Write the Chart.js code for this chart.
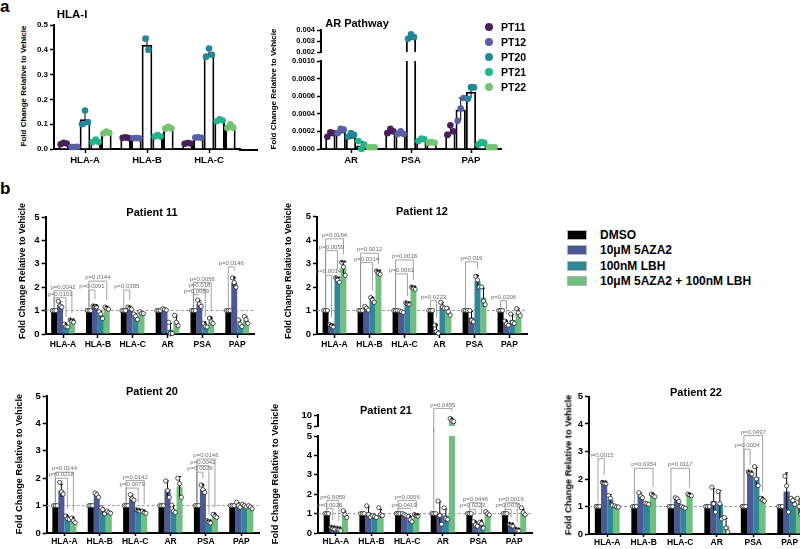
<!DOCTYPE html>
<html>
<head>
<meta charset="utf-8">
<title>Fold change relative to vehicle</title>
<script src="https://cdn.jsdelivr.net/npm/chart.js@4.4.1/dist/chart.umd.min.js"></script>
<style>
html, body { margin:0; padding:0; background:#fff; overflow:hidden; }
#fig { position:relative; width:800px; height:549px; overflow:hidden; font-family:"Liberation Sans", Arial, sans-serif; color:#000; }
#fig canvas { position:absolute; }
.txt { position:absolute; font-weight:bold; white-space:nowrap; line-height:1; z-index:2; }
.ctr { transform:translate(-50%, -50%); }
.lft { transform:translate(0, -50%); }
.ytl { transform:translate(-50%, -50%) rotate(-90deg); }
.swatch { position:absolute; width:20px; height:10px; box-sizing:border-box; border:1px solid #b5b5b5; transform:translate(0, -50%); }
.dot { position:absolute; width:8px; height:8px; border-radius:50%; transform:translate(-50%, -50%); }
</style>
</head>
<body>
<div id="fig"></div>
<script>

// =========================
// PANEL A DATA
// =========================

const patients = ['PT11', 'PT12', 'PT20', 'PT21', 'PT22'];
const hlaGenes = ['HLA-A', 'HLA-B', 'HLA-C'];
const arGenes = ['AR', 'PSA', 'PAP'];

const hlaTicks = [0, 0.1, 0.2, 0.3, 0.4, 0.5];
const arTicksLow = [0, 0.0002, 0.0004, 0.0006, 0.0008, 0.0010];
const arTicksHigh = [0.002, 0.003, 0.004];

// rows = patients, columns = genes
const hlaMeans = [
  [0.022, 0.045, 0.022],
  [0.008, 0.043, 0.046],
  [0.120, 0.420, 0.385],
  [0.030, 0.050, 0.115],
  [0.065, 0.085, 0.090]
];
const hlaReps = [
  [[0.019, 0.025, 0.022], [0.045, 0.047, 0.044], [0.021, 0.024, 0.022]],
  [[0.008, 0.008, 0.009], [0.043, 0.044, 0.043], [0.046, 0.047, 0.045]],
  [[0.100, 0.155, 0.108], [0.445, 0.400], [0.372, 0.405, 0.380]],
  [[0.028, 0.038, 0.028], [0.050, 0.056, 0.050], [0.112, 0.120, 0.115]],
  [[0.062, 0.070, 0.065], [0.082, 0.090, 0.083], [0.085, 0.100, 0.086]]
];

const arMeans = [
  [0.00017, 0.00019, 0.00020],
  [0.00020, 0.00017, 0.00045],
  [0.00014, 0.00330, 0.00065],
  [0.00004, 0.00010, 0.00006],
  [0.00002, 0.00007, 0.00002]
];
const arReps = [
  [[0.00014, 0.00019, 0.00018], [0.00018, 0.00023, 0.00020], [0.00016, 0.00027, 0.00020]],
  [[0.00018, 0.00023, 0.00022], [0.00017, 0.00020, 0.00017], [0.00032, 0.00046, 0.00058]],
  [[0.00014, 0.00018, 0.00016], [0.00320, 0.00360, 0.00335], [0.00057, 0.00070, 0.00070]],
  [[0.00009, 0.00000, 0.00005], [0.00009, 0.00012, 0.00011], [0.00005, 0.00008, 0.00007]],
  [[0.00002, 0.00002, 0.00002], [0.00007, 0.00008, 0.00007], [0.00002, 0.00002, 0.00002]]
];


// =========================
// PANEL B DATA
// =========================

const genes = ['HLA-A', 'HLA-B', 'HLA-C', 'AR', 'PSA', 'PAP'];
const treatments = ['DMSO', '10μM 5AZA2', '100nM LBH', '10μM 5AZA2 + 100nM LBH'];
const foldTicks = [0, 1, 2, 3, 4, 5];
const foldTicksHigh = [5, 10];

const dmsoMeans = [1, 1, 1, 1, 1, 1];
const dmsoReps = [[1, 1, 1], [1, 1, 1], [1, 1, 1], [1, 1, 1], [1, 1, 1], [1, 1, 1]];

// rows = DMSO, 5AZA2, LBH, combination
const p11Means = [
  dmsoMeans,
  [1.25, 1.18, 1.10, 1.05, 1.30, 2.20],
  [0.35, 0.82, 0.75, 0.18, 0.35, 0.45],
  [0.55, 1.10, 0.90, 0.55, 0.55, 0.60]
];
const p11Reps = [
  dmsoReps,
  [[1.40, 1.20, 1.15], [1.20, 1.18, 1.16], [1.15, 1.10, 1.06], [1.08, 1.05, 1.02], [1.45, 1.28, 1.18], [2.40, 2.20, 2.00]],
  [[0.42, 0.32, 0.30], [0.95, 0.85, 0.66], [0.85, 0.76, 0.62], [0.50, 0.02, 0.02], [0.45, 0.32, 0.30], [0.60, 0.42, 0.32]],
  [[0.60, 0.55, 0.50], [1.15, 1.10, 1.06], [0.95, 0.88, 0.87], [0.80, 0.50, 0.35], [0.68, 0.52, 0.45], [0.75, 0.62, 0.45]]
];
// [gene, treatment, bracket level, text]
const p11Brackets = [
  [0, 3, 1.85, 'p=0.0042'], [0, 2, 1.55, 'p=0.0101'],
  [1, 3, 2.26, 'p=0.0144'], [1, 1, 1.88, 'p=0.0091'],
  [2, 1, 1.88, 'p=0.0385'],
  [4, 3, 2.2, 'p=0.0056'], [4, 2, 1.92, 'p=0.018'], [4, 1, 1.68, 'p=0.0089'],
  [5, 1, 2.87, 'p=0.0146']
];
const p11Stars = [[0, 2, '*'], [0, 3, '**'], [1, 1, '**'], [1, 3, '*'], [2, 1, '*'], [4, 2, '*'], [4, 3, '*'], [5, 1, '*']];

const p12Means = [
  dmsoMeans,
  [0.35, 1.10, 0.95, 0.17, 0.70, 0.45],
  [2.30, 1.45, 1.30, 1.20, 2.25, 0.60],
  [2.80, 2.60, 1.95, 0.95, 1.55, 0.92]
];
const p12Reps = [
  dmsoReps,
  [[0.40, 0.35, 0.30], [1.18, 1.10, 1.02], [0.98, 0.95, 0.92], [0.38, 0.10, 0.03], [1.00, 0.58, 0.52], [0.55, 0.43, 0.37]],
  [[2.40, 2.30, 2.20], [1.55, 1.45, 1.35], [1.33, 1.30, 1.27], [1.35, 1.15, 1.10], [2.45, 2.30, 2.00], [0.85, 0.50, 0.45]],
  [[3.05, 2.85, 2.50], [2.68, 2.58, 2.54], [2.00, 1.95, 1.90], [1.10, 0.95, 0.80], [2.00, 1.40, 1.25], [1.08, 0.90, 0.78]]
];
const p12Brackets = [
  [0, 3, 4.05, 'p=0.0184'], [0, 2, 3.55, 'p=0.0059'], [0, 1, 2.5, 'p=0.0014'],
  [1, 3, 3.44, 'p=0.0012'], [1, 2, 3.04, 'p=0.0314'],
  [2, 3, 3.15, 'p=0.0018'], [2, 2, 2.56, 'p=0.0061'],
  [3, 1, 1.42, 'p=0.0223'],
  [4, 2, 3.07, 'p=0.019'],
  [5, 1, 1.42, 'p=0.0206']
];
const p12Stars = [[0, 1, '**'], [0, 2, '**'], [0, 3, '**'], [1, 2, '*'], [1, 3, '**'], [2, 2, '**'], [2, 3, '**'], [3, 1, '*'], [4, 2, '*'], [5, 1, '*']];

const p20Means = [
  dmsoMeans,
  [1.55, 1.38, 1.28, 1.60, 1.60, 1.02],
  [0.55, 0.82, 0.82, 0.85, 0.40, 1.00],
  [0.45, 0.75, 0.75, 1.70, 0.62, 0.95]
];
const p20Reps = [
  dmsoReps,
  [[1.85, 1.50, 1.42], [1.46, 1.40, 1.30], [1.40, 1.25, 1.20], [1.90, 1.55, 1.30], [1.75, 1.58, 1.48], [1.12, 1.00, 0.94]],
  [[0.62, 0.52, 0.50], [0.92, 0.85, 0.70], [0.85, 0.82, 0.80], [1.02, 0.80, 0.75], [0.45, 0.40, 0.36], [1.05, 1.00, 0.95]],
  [[0.55, 0.45, 0.38], [0.80, 0.75, 0.72], [0.80, 0.75, 0.72], [2.00, 1.80, 1.30], [0.68, 0.62, 0.57], [1.00, 0.95, 0.88]]
];
const p20Brackets = [
  [0, 3, 2.22, 'p=0.0144'], [0, 2, 2.0, 'p=0.0218'],
  [2, 3, 1.92, 'p=0.0142'], [2, 2, 1.64, 'p=0.0079'],
  [4, 3, 2.7, 'p=0.0146'], [4, 2, 2.46, 'p=0.0042'], [4, 1, 2.22, 'p=0.0029']
];
const p20Stars = [[0, 2, '*'], [0, 3, '*'], [2, 2, '**'], [2, 3, '*'], [4, 1, '*'], [4, 2, '**'], [4, 3, '*']];

const p21Means = [
  dmsoMeans,
  [0.25, 1.05, 0.95, 1.00, 0.45, 0.40],
  [0.18, 0.85, 0.70, 0.90, 0.45, 0.15],
  [0.95, 1.00, 0.90, 7.50, 0.95, 1.05]
];
const p21Reps = [
  dmsoReps,
  [[0.30, 0.24, 0.20], [1.40, 0.95, 0.82], [1.00, 0.95, 0.90], [1.65, 0.90, 0.45], [0.58, 0.42, 0.35], [0.45, 0.40, 0.35]],
  [[0.25, 0.16, 0.12], [0.90, 0.85, 0.80], [0.85, 0.68, 0.58], [1.30, 0.75, 0.70], [0.55, 0.48, 0.25], [0.20, 0.14, 0.12]],
  [[1.15, 0.95, 0.80], [1.30, 0.95, 0.90], [0.95, 0.90, 0.87], [8.40, 7.60, 7.00], [1.10, 1.00, 0.93], [1.30, 1.05, 0.95]]
];
const p21Brackets = [
  [0, 2, 1.68, 'p=0.0059'], [0, 1, 1.27, 'p=0.0036'],
  [2, 3, 1.68, 'p=0.0056'], [2, 2, 1.27, 'p=0.0419'],
  [3, 3, 13, 'p=0.0455'],
  [4, 2, 1.56, 'p=0.0446'], [4, 1, 1.22, 'p=0.0223'],
  [5, 2, 1.56, 'p=0.0016'], [5, 1, 1.22, 'p=0.0078']
];
const p21Stars = [[0, 1, '**'], [0, 2, '**'], [2, 2, '*'], [2, 3, '**'], [3, 3, '*'], [4, 1, '*'], [4, 2, '*'], [5, 1, '**'], [5, 2, '**']];

const p22Means = [
  dmsoMeans,
  [1.85, 1.40, 1.25, 1.20, 2.22, 1.55],
  [1.25, 1.10, 0.97, 1.08, 2.07, 1.20],
  [1.00, 1.40, 1.42, 0.30, 1.25, 1.00]
];
const p22Reps = [
  dmsoReps,
  [[1.88, 1.85, 1.83], [1.50, 1.38, 1.32], [1.32, 1.28, 1.18], [1.70, 1.10, 0.80], [2.26, 2.22, 2.18], [2.10, 1.75, 0.80]],
  [[1.40, 1.30, 1.05], [1.12, 1.10, 1.08], [1.00, 0.97, 0.94], [1.55, 1.10, 0.55], [2.45, 2.00, 1.76], [1.30, 1.22, 1.08]],
  [[1.02, 0.99, 0.98], [1.45, 1.40, 1.35], [1.45, 1.42, 1.39], [0.60, 0.22, 0.08], [1.30, 1.25, 1.20], [1.30, 1.00, 0.72]]
];
const p22Brackets = [
  [0, 1, 2.75, 'p=0.0015'],
  [1, 3, 2.39, 'p=0.0354'],
  [2, 3, 2.39, 'p=0.0117'],
  [4, 3, 3.58, 'p=0.0497'], [4, 1, 3.08, 'p=0.0004']
];
const p22Stars = [[0, 1, '**'], [1, 3, '*'], [2, 3, '*'], [4, 1, '**'], [4, 3, '*']];


// =========================
// COMMON CONFIG
// =========================

const FONT = '"Liberation Sans", Arial, sans-serif';
const PT_COLORS = ['#4b1d5c', '#5761a6', '#22879b', '#22b48d', '#74c370'];
const TX_COLORS = ['#000000', '#4b5a96', '#2f8798', '#70bf7e'];

Chart.defaults.font.family = FONT;
Chart.defaults.color = '#000';

const fig = document.getElementById('fig');

function sd(values) {
  const m = values.reduce((s, v) => s + v, 0) / values.length;
  if (values.length < 2) return 0;
  return Math.sqrt(values.reduce((s, v) => s + (v - m) * (v - m), 0) / (values.length - 1));
}

function barTop(chart, di, j) {
  const ds = chart.data.datasets[di];
  const reps = ds.reps[j];
  const m = ds.data[j];
  return Math.max(m, m + sd(reps), ...reps);
}


// =========================
// MARKS PLUGIN (dots, error bars, brackets)
// =========================

const marks = {
  id: 'marks',

  beforeDatasetsDraw(chart, args, o) {
    if (o.refLine == null) return;
    const { ctx, chartArea: a } = chart;
    const ys = chart.scales.y;
    if (o.refLine < ys.min || o.refLine > ys.max) return;
    const y = ys.getPixelForValue(o.refLine);
    ctx.save();
    ctx.strokeStyle = '#9a9a9a';
    ctx.lineWidth = 1;
    ctx.setLineDash([3, 2]);
    ctx.beginPath();
    ctx.moveTo(a.left, y);
    ctx.lineTo(a.right, y);
    ctx.stroke();
    ctx.restore();
  },

  afterDatasetsDraw(chart, args, o) {
    const { ctx, chartArea: a } = chart;
    const ys = chart.scales.y;

    // x axis drawn on past the last category
    if (o.axisTo) {
      ctx.save();
      ctx.strokeStyle = '#000';
      ctx.lineWidth = 2;
      ctx.beginPath();
      ctx.moveTo(a.right - 1, a.bottom + 1);
      ctx.lineTo(o.axisTo - chart.canvas.offsetLeft, a.bottom + 1);
      ctx.stroke();
      ctx.restore();
    }

    ctx.save();
    ctx.beginPath();
    ctx.rect(a.left - o.pad, a.top - o.pad, a.right - a.left + 2 * o.pad, a.bottom - a.top + 2 * o.pad);
    ctx.clip();

    chart.data.datasets.forEach((ds, i) => {
      const meta = chart.getDatasetMeta(i);
      meta.data.forEach((bar, j) => {
        const reps = ds.reps[j];
        const m = ds.data[j];
        const e = sd(reps);

        if (e > 0.000001 && m + e > ys.min) {
          const yt = ys.getPixelForValue(m + e);
          const yb = ys.getPixelForValue(m - e);
          ctx.strokeStyle = '#000';
          ctx.lineWidth = 1;
          ctx.beginPath();
          ctx.moveTo(bar.x, yb);
          ctx.lineTo(bar.x, yt);
          ctx.moveTo(bar.x - o.cap / 2, yt);
          ctx.lineTo(bar.x + o.cap / 2, yt);
          ctx.stroke();
        }

        reps.forEach((v, k) => {
          const x = bar.x + (k - (reps.length - 1) / 2) * o.spread;
          const y = ys.getPixelForValue(v);
          ctx.beginPath();
          ctx.arc(x, y, o.dotR, 0, Math.PI * 2);
          ctx.fillStyle = ds.dotColor || o.dotFill;
          ctx.fill();
          if (o.dotStroke) {
            ctx.strokeStyle = o.dotStroke;
            ctx.lineWidth = 0.8;
            ctx.stroke();
          }
        });
      });
    });
    ctx.restore();

    // significance brackets
    ctx.save();
    (o.brackets || []).forEach(([g, t, level, text]) => {
      if (level < ys.min) return;
      const b0 = chart.getDatasetMeta(0).data[g];
      const b1 = chart.getDatasetMeta(t).data[g];
      const yl = ys.getPixelForValue(level);
      const y0 = ys.getPixelForValue(barTop(chart, 0, g)) - 3;
      const y1 = ys.getPixelForValue(barTop(chart, t, g)) - 7;
      ctx.strokeStyle = '#8c8c8c';
      ctx.lineWidth = 0.8;
      ctx.beginPath();
      ctx.moveTo(b0.x, y0);
      ctx.lineTo(b0.x, yl);
      ctx.lineTo(b1.x, yl);
      ctx.lineTo(b1.x, Math.max(y1, yl));
      ctx.stroke();
      ctx.fillStyle = '#6e6e6e';
      ctx.font = '6px ' + FONT;
      ctx.textAlign = 'center';
      ctx.textBaseline = 'bottom';
      ctx.fillText(text, (b0.x + b1.x) / 2, yl - 0.5);
    });

    // asterisks
    (o.stars || []).forEach(([g, t, s]) => {
      const top = barTop(chart, t, g);
      if (top < ys.min) return;
      const bar = chart.getDatasetMeta(t).data[g];
      ctx.fillStyle = '#000';
      ctx.font = 'bold 8px ' + FONT;
      ctx.textAlign = 'center';
      ctx.textBaseline = 'alphabetic';
      ctx.fillText(s, bar.x, ys.getPixelForValue(top) + 3);
    });
    ctx.restore();
  }
};


// =========================
// CHART BUILDER
// =========================

function buildChart(box, area, opts) {

  const [cx, cy, cw, ch] = box;
  const [L, T, R, B] = area;

  const canvas = document.createElement('canvas');
  canvas.width = cw;
  canvas.height = ch;
  canvas.style.left = cx + 'px';
  canvas.style.top = cy + 'px';
  canvas.style.width = cw + 'px';
  canvas.style.height = ch + 'px';
  fig.appendChild(canvas);

  const xScale = {
    display: !opts.hideX,
    offset: true,
    grid: { offset: false, drawOnChartArea: false, tickLength: opts.xTick || 4, tickWidth: 1.5, tickColor: '#000' },
    border: { display: true, color: '#000', width: 2 },
    ticks: { color: '#000', font: { size: opts.xFont, weight: 'bold' }, padding: opts.xPad || 1, maxRotation: 0, autoSkip: false }
  };
  if (!opts.hideX) {
    xScale.afterFit = s => { s.height = cy + ch - B; };
  }

  return new Chart(canvas, {
    type: 'bar',
    data: { labels: opts.labels, datasets: opts.datasets },
    options: {
      responsive: false,
      animation: false,
      devicePixelRatio: 1,
      layout: { padding: { left: 0, top: T - cy, right: cx + cw - R, bottom: opts.hideX ? cy + ch - B : 0 } },
      plugins: { legend: { display: false }, tooltip: { enabled: false }, marks: opts.marks },
      scales: {
        x: xScale,
        y: {
          min: opts.ticks[0],
          max: opts.ticks[opts.ticks.length - 1],
          afterBuildTicks: s => { s.ticks = opts.ticks.map(v => ({ value: v })); },
          ticks: { color: '#000', font: { size: opts.yFont, weight: 'bold' }, padding: 2, autoSkip: false, callback: opts.fmt },
          grid: { drawOnChartArea: false, tickLength: 4, tickWidth: 1.5, tickColor: '#000' },
          border: { color: '#000', width: 2 },
          afterFit: s => { s.width = L - cx; }
        }
      }
    },
    plugins: [marks]
  });

}

function addText(str, x, y, size, cls) {
  const d = document.createElement('div');
  d.className = 'txt ' + (cls || 'ctr');
  d.textContent = str;
  d.style.left = x + 'px';
  d.style.top = y + 'px';
  d.style.fontSize = size + 'px';
  fig.appendChild(d);
  return d;
}


// =========================
// PANEL A
// =========================

function ptDatasets(means, reps) {
  return patients.map((p, i) => ({
    label: p,
    data: means[i],
    reps: reps[i],
    dotColor: PT_COLORS[i],
    backgroundColor: '#fff',
    borderColor: '#000',
    borderWidth: 2,
    categoryPercentage: 0.86,
    barPercentage: 1,
    clip: 0
  }));
}

const aMarks = { spread: 3, dotR: 3.3, dotStroke: null, cap: 4, pad: 6 };

buildChart([28, 12, 232, 160], [54, 25, 240, 149], {
  labels: hlaGenes, datasets: ptDatasets(hlaMeans, hlaReps),
  ticks: hlaTicks, fmt: v => v.toFixed(1), yFont: 8, xFont: 9.5, xPad: 2,
  marks: Object.assign({}, aMarks, { axisTo: 258 })
});

buildChart([280, 20, 225, 42], [321, 30, 501, 52], {
  labels: arGenes, datasets: ptDatasets(arMeans, arReps), hideX: true,
  ticks: arTicksHigh, fmt: v => v.toFixed(3), yFont: 7.5, xFont: 9.5, marks: Object.assign({}, aMarks, { pad: 4 })
});

buildChart([280, 50, 225, 122], [321, 61, 501, 149], {
  labels: arGenes, datasets: ptDatasets(arMeans, arReps),
  ticks: arTicksLow, fmt: v => v.toFixed(4), yFont: 7.5, xFont: 9.5, xPad: 2, marks: aMarks
});


// =========================
// PANEL B
// =========================

function txDatasets(means, reps) {
  return treatments.map((t, i) => ({
    label: t,
    data: means[i],
    reps: reps[i],
    backgroundColor: TX_COLORS[i],
    borderWidth: 0,
    categoryPercentage: 0.68,
    barPercentage: 1,
    clip: 0
  }));
}

function bMarks(brackets, stars, pad) {
  return { refLine: 1, spread: 1.8, dotR: 2.1, dotFill: '#fff', dotStroke: '#222', cap: 3, pad: pad, brackets, stars };
}

const foldFmt = v => String(v);

buildChart([20, 203, 240, 152], [45.6, 217, 254.6, 334], {
  labels: genes, datasets: txDatasets(p11Means, p11Reps),
  ticks: foldTicks, fmt: foldFmt, yFont: 9.5, xFont: 8.5, xPad: 2, marks: bMarks(p11Brackets, p11Stars, 5)
});

buildChart([290, 203, 245, 152], [317, 216.5, 527, 334], {
  labels: genes, datasets: txDatasets(p12Means, p12Reps),
  ticks: foldTicks, fmt: foldFmt, yFont: 9.5, xFont: 8.5, xPad: 2, marks: bMarks(p12Brackets, p12Stars, 5)
});

buildChart([20, 383, 245, 166], [46.7, 396, 259, 533], {
  labels: genes, datasets: txDatasets(p20Means, p20Reps),
  ticks: foldTicks, fmt: foldFmt, yFont: 9.5, xFont: 8.5, xPad: 0, xTick: 3, marks: bMarks(p20Brackets, p20Stars, 5)
});

buildChart([290, 395, 245, 45], [318, 415, 532, 426], {
  labels: genes, datasets: txDatasets(p21Means, p21Reps), hideX: true,
  ticks: foldTicksHigh, fmt: foldFmt, yFont: 9.5, xFont: 8.5, marks: bMarks(p21Brackets, p21Stars, 3)
});

buildChart([290, 427, 245, 122], [318, 436, 532, 533], {
  labels: genes, datasets: txDatasets(p21Means, p21Reps),
  ticks: foldTicks, fmt: foldFmt, yFont: 9.5, xFont: 8.5, xPad: 0, xTick: 3, marks: bMarks(p21Brackets, p21Stars, 5)
});

buildChart([560, 383, 250, 166], [589, 396.5, 808, 534], {
  labels: genes, datasets: txDatasets(p22Means, p22Reps),
  ticks: foldTicks, fmt: foldFmt, yFont: 9.5, xFont: 8.5, xPad: 0, xTick: 3, marks: bMarks(p22Brackets, p22Stars, 5)
});


// =========================
// TEXT, TITLES, LEGENDS
// =========================

addText('a', 0, -2, 17, 'lft').style.transform = 'none';
addText('b', 0, 180, 17, 'lft').style.transform = 'none';

addText('HLA-I', 72, 15, 11.5);
addText('AR Pathway', 357, 23, 11);
addText('Patient 11', 152, 212, 11);
addText('Patient 12', 422, 211, 11);
addText('Patient 20', 152, 391, 11);
addText('Patient 21', 386, 410, 11);
addText('Patient 22', 696, 392, 11);

const yTitle = 'Fold Change Relative to Vehicle';
[[24, 86, 8], [274, 89, 8], [22, 271, 9], [288, 271, 9], [20, 464, 9.3], [276, 474, 9.3], [569, 465, 9.3]]
  .forEach(([x, y, s]) => addText(yTitle, x, y, s, 'ytl'));

patients.forEach((p, i) => {
  const y = 27.3 + i * 15;
  const d = document.createElement('div');
  d.className = 'dot';
  d.style.left = '489px';
  d.style.top = y + 'px';
  d.style.background = PT_COLORS[i];
  fig.appendChild(d);
  addText(p, 501, y, 10.5, 'lft');
});

const legendRows = [235.3, 250, 265.7, 280.5];
treatments.forEach((t, i) => {
  const s = document.createElement('div');
  s.className = 'swatch';
  s.style.left = '567px';
  s.style.top = legendRows[i] + 'px';
  s.style.background = TX_COLORS[i];
  fig.appendChild(s);
  addText(t, 600, legendRows[i], 12, 'lft');
});

</script>
</body>
</html>
